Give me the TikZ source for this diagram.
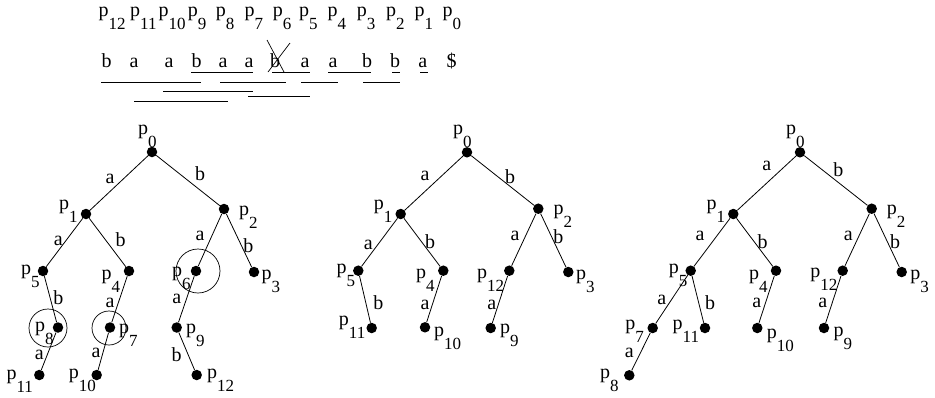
\documentclass[tikz,border=0pt]{standalone}
\usepackage{fontspec}
\setmainfont{Liberation Serif}
\usetikzlibrary{calc}
\newcommand{\pl}[1]{p\raisebox{-13pt}{\fontsize{17}{17}\selectfont #1}}
\begin{document}
\begin{tikzpicture}[x=1pt,y=-1pt,
  dot/.style={circle,fill=black,inner sep=0pt,minimum size=10.5pt},
  lab/.style={inner sep=0pt,anchor=base west,font=\fontsize{20}{20}\selectfont},
  elab/.style={inner sep=0pt,font=\fontsize{20}{20}\selectfont},
  chr/.style={inner sep=0pt,anchor=base,font=\fontsize{20}{20}\selectfont},
  ring/.style={circle,draw,inner sep=0pt,line width=0.7pt},
  edge/.style={line width=0.8pt},
  uline/.style={line width=0.7pt}]
\useasboundingbox (0,0) rectangle (935,397);

% ---------- top row of positions ----------
\node[lab] (t12) at (98.3,16) {\pl{12}};
\node[lab] (t11) at (130,16) {\pl{11}};
\node[lab] (t10) at (158.3,16) {\pl{10}};
\node[lab] (t9) at (187.7,16) {\pl{9}};
\node[lab] (t8) at (215.7,16) {\pl{8}};
\node[lab] (t7) at (244.3,16) {\pl{7}};
\node[lab] (t6) at (272.7,16) {\pl{6}};
\node[lab] (t5) at (299,16) {\pl{5}};
\node[lab] (t4) at (327.3,16) {\pl{4}};
\node[lab] (t3) at (356.7,16) {\pl{3}};
\node[lab] (t2) at (386,16) {\pl{2}};
\node[lab] (t1) at (414.3,16) {\pl{1}};
\node[lab] (t0) at (442.3,16) {\pl{0}};

% ---------- string ----------
\node[chr] (s1) at (106.7,67) {b};
\node[chr] (s2) at (134,67) {a};
\node[chr] (s3) at (169,67) {a};
\node[chr] (s4) at (196.7,67) {b};
\node[chr] (s5) at (223,67) {a};
\node[chr] (s6) at (249,67) {a};
\node[chr] (s7) at (275,67) {b};
\node[chr] (s8) at (305,67) {a};
\node[chr] (s9) at (333,67) {a};
\node[chr] (s10) at (367,67) {b};
\node[chr] (s11) at (395,67) {b};
\node[chr] (s12) at (422.7,67) {a};
\node[chr] (s13) at (451.7,67) {\$};
\draw[line width=0.7pt] (267,40) -- (284,72);
\draw[line width=0.7pt] (268,72) -- (290,43);

% underlines
\draw[uline] (191,72.7) -- (253,72.7);
\draw[uline] (272,72.7) -- (310,72.7);
\draw[uline] (328,72.7) -- (371,72.7);
\draw[uline] (392,72.7) -- (400,72.7);
\draw[uline] (420,72.7) -- (428,72.7);
\draw[uline] (101,82.5) -- (201,82.5);
\draw[uline] (220,82.5) -- (286,82.5);
\draw[uline] (301,82.5) -- (338,82.5);
\draw[uline] (363,82.5) -- (400,82.5);
\draw[uline] (163,91.5) -- (253,91.5);
\draw[uline] (248,96.5) -- (310,96.5);
\draw[uline] (134,101) -- (228,101);

% ---------- tree 1 ----------
\node[dot] (A0) at (152,152) {};
\node[dot] (A1) at (86,214) {};
\node[dot] (A2) at (224,209) {};
\node[dot] (A5) at (43,271) {};
\node[dot] (A4) at (129,271) {};
\node[dot] (A6) at (196,271) {};
\node[dot] (A3) at (254,272) {};
\node[dot] (A8) at (58,327.5) {};
\node[dot] (A7) at (110,327.5) {};
\node[dot] (A9) at (176.7,327.5) {};
\node[dot] (A11) at (39.3,375) {};
\node[dot] (A10) at (96.7,375) {};
\node[dot] (A12) at (196.7,375) {};
\draw[edge] (A0) -- (A1); \draw[edge] (A0) -- (A2);
\draw[edge] (A1) -- (A5); \draw[edge] (A1) -- (A4);
\draw[edge] (A2) -- (A6); \draw[edge] (A2) -- (A3);
\draw[edge] (A5) -- (A8); \draw[edge] (A4) -- (A7);
\draw[edge] (A6) -- (A9); \draw[edge] (A8) -- (A11);
\draw[edge] (A7) -- (A10); \draw[edge] (A9) -- (A12);
\node[ring,minimum size=44pt] (R6) at (198,271) {};
\node[ring,minimum size=38pt] (R8) at (48,328) {};
\node[ring,minimum size=34pt] (R7) at (109,328) {};
\node[lab] (A0l) at ($(A0)+(-14,-18)$) {\pl{0}};
\node[lab] (A1l) at ($(A1)+(-27,-5)$) {\pl{1}};
\node[lab] (A2l) at ($(A2)+(15,6)$) {\pl{2}};
\node[lab] (A5l) at ($(A5)+(-22,3)$) {\pl{5}};
\node[lab] (A4l) at ($(A4)+(-27.5,8)$) {\pl{4}};
\node[lab] (A6l) at ($(A6)+(-24,5)$) {\pl{6}};
\node[lab] (A3l) at ($(A3)+(7.5,7)$) {\pl{3}};
\node[lab] (A8l) at ($(A8)+(-23,3.5)$) {\pl{8}};
\node[lab] (A7l) at ($(A7)+(9,5.5)$) {\pl{7}};
\node[lab] (A9l) at ($(A9)+(9.3,5.5)$) {\pl{9}};
\node[lab] (A11l) at ($(A11)+(-33,4)$) {\pl{11}};
\node[lab] (A10l) at ($(A10)+(-28,3)$) {\pl{10}};
\node[lab] (A12l) at ($(A12)+(10.3,3)$) {\pl{12}};
\node[elab] (Ae01) at (110,178.7) {a};
\node[elab] (Ae02) at (200,173.7) {b};
\node[elab] (Ae15) at (58.3,241.3) {a};
\node[elab] (Ae14) at (120.5,239.7) {b};
\node[elab] (Ae26) at (200,236.3) {a};
\node[elab] (Ae23) at (248.3,245.3) {b};
\node[elab] (Ae58) at (58.3,298) {b};
\node[elab] (Ae47) at (110,303) {a};
\node[elab] (Ae69) at (176.7,298.7) {a};
\node[elab] (Ae811) at (39.3,354.7) {a};
\node[elab] (Ae710) at (96,353) {a};
\node[elab] (Ae912) at (176.7,354.7) {b};

% ---------- tree 2 ----------
\node[dot] (B0) at (467,152.3) {};
\node[dot] (B1) at (400.7,214) {};
\node[dot] (B2) at (538.3,208.7) {};
\node[dot] (B5) at (358.3,270.7) {};
\node[dot] (B4) at (443.3,270.7) {};
\node[dot] (B12) at (509.3,270.7) {};
\node[dot] (B3) at (568.3,272) {};
\node[dot] (B11) at (371.7,328) {};
\node[dot] (B10) at (425,327.3) {};
\node[dot] (B9) at (490.7,328) {};
\draw[edge] (B0) -- (B1); \draw[edge] (B0) -- (B2);
\draw[edge] (B1) -- (B5); \draw[edge] (B1) -- (B4);
\draw[edge] (B2) -- (B12); \draw[edge] (B2) -- (B3);
\draw[edge] (B5) -- (B11); \draw[edge] (B4) -- (B10);
\draw[edge] (B12) -- (B9);
\node[lab] (B0l) at ($(B0)+(-14,-18)$) {\pl{0}};
\node[lab] (B1l) at ($(B1)+(-27,-5)$) {\pl{1}};
\node[lab] (B2l) at ($(B2)+(15,6)$) {\pl{2}};
\node[lab] (B5l) at ($(B5)+(-22,3)$) {\pl{5}};
\node[lab] (B4l) at ($(B4)+(-27.5,8)$) {\pl{4}};
\node[lab] (B12l) at ($(B12)+(-32.5,8)$) {\pl{12}};
\node[lab] (B3l) at ($(B3)+(7.5,7)$) {\pl{3}};
\node[lab] (B11l) at ($(B11)+(-33,-3)$) {\pl{11}};
\node[lab] (B10l) at ($(B10)+(9,9)$) {\pl{10}};
\node[lab] (B9l) at ($(B9)+(9.3,5.5)$) {\pl{9}};
\node[elab] (Be01) at (425,176.3) {a};
\node[elab] (Be02) at (510,176.3) {b};
\node[elab] (Be15) at (368.3,244.7) {a};
\node[elab] (Be14) at (430,241.3) {b};
\node[elab] (Be212) at (515,236.3) {a};
\node[elab] (Be23) at (558.3,236.3) {b};
\node[elab] (Be511) at (378.3,303) {b};
\node[elab] (Be410) at (425,304.7) {a};
\node[elab] (Be129) at (491.7,304.7) {a};

% ---------- tree 3 ----------
\node[dot] (C0) at (800,152.3) {};
\node[dot] (C1) at (733.3,214) {};
\node[dot] (C2) at (871.7,208.7) {};
\node[dot] (C5) at (690.7,270.7) {};
\node[dot] (C4) at (776,270.7) {};
\node[dot] (C12) at (842.7,270.7) {};
\node[dot] (C3) at (901.7,272) {};
\node[dot] (C7) at (652.7,328) {};
\node[dot] (C11) at (705,328) {};
\node[dot] (C10) at (757.3,328) {};
\node[dot] (C9) at (824,328) {};
\node[dot] (C8) at (629.3,375.3) {};
\draw[edge] (C0) -- (C1); \draw[edge] (C0) -- (C2);
\draw[edge] (C1) -- (C5); \draw[edge] (C1) -- (C4);
\draw[edge] (C2) -- (C12); \draw[edge] (C2) -- (C3);
\draw[edge] (C5) -- (C7); \draw[edge] (C5) -- (C11);
\draw[edge] (C4) -- (C10); \draw[edge] (C12) -- (C9);
\draw[edge] (C7) -- (C8);
\node[lab] (C0l) at ($(C0)+(-14,-18)$) {\pl{0}};
\node[lab] (C1l) at ($(C1)+(-27,-5)$) {\pl{1}};
\node[lab] (C2l) at ($(C2)+(15,6)$) {\pl{2}};
\node[lab] (C5l) at ($(C5)+(-22,2.5)$) {\pl{5}};
\node[lab] (C4l) at ($(C4)+(-27,9)$) {\pl{4}};
\node[lab] (C12l) at ($(C12)+(-32.5,7)$) {\pl{12}};
\node[lab] (C3l) at ($(C3)+(8.5,7.5)$) {\pl{3}};
\node[lab] (C7l) at ($(C7)+(-27.5,1)$) {\pl{7}};
\node[lab] (C11l) at ($(C11)+(-32.5,1)$) {\pl{11}};
\node[lab] (C10l) at ($(C10)+(9.4,10)$) {\pl{10}};
\node[lab] (C9l) at ($(C9)+(9.3,8)$) {\pl{9}};
\node[lab] (C8l) at ($(C8)+(-29.3,2.7)$) {\pl{8}};
\node[elab] (Ce01) at (766.7,166.3) {a};
\node[elab] (Ce02) at (838.3,169.7) {b};
\node[elab] (Ce15) at (700,236.3) {a};
\node[elab] (Ce14) at (762.7,241.3) {b};
\node[elab] (Ce212) at (848.3,236.3) {a};
\node[elab] (Ce23) at (895,241.3) {b};
\node[elab] (Ce57) at (661.7,299.7) {a};
\node[elab] (Ce511) at (710,303) {b};
\node[elab] (Ce410) at (756.7,303) {a};
\node[elab] (Ce129) at (822.7,303) {a};
\node[elab] (Ce78) at (629.3,353) {a};
\end{tikzpicture}
\end{document}
